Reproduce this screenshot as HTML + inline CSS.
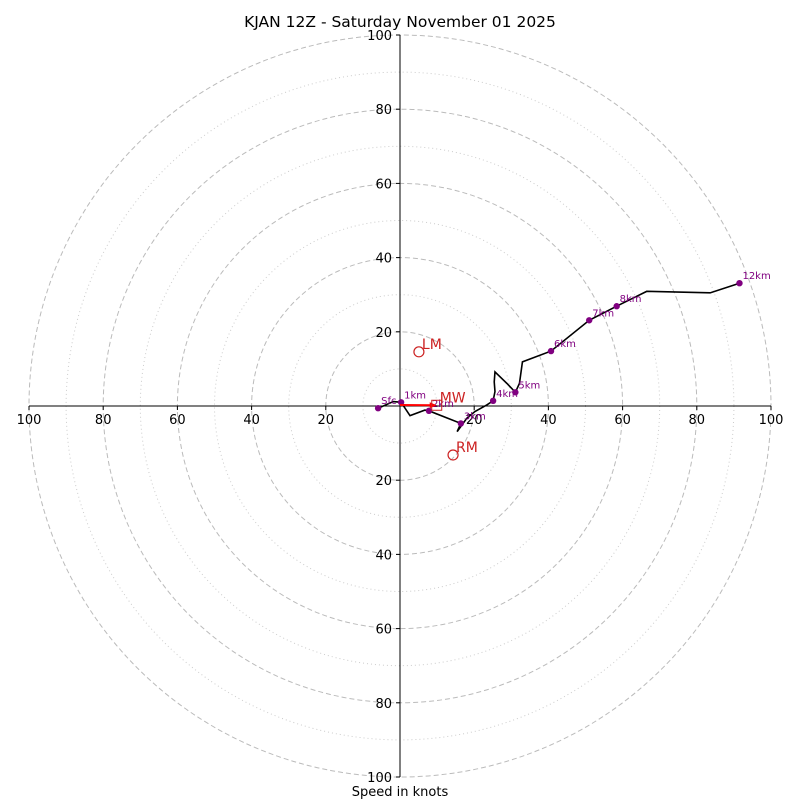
<!DOCTYPE html>
<html><head><meta charset="utf-8"><style>
body{margin:0;background:#fff;font-family:"DejaVu Sans",sans-serif}
</style></head><body>
<svg id="c" width="800" height="800" xmlns="http://www.w3.org/2000/svg" font-family="DejaVu Sans, sans-serif">
<rect width="800" height="800" fill="#fff"/>
<text x="400" y="27" text-anchor="middle" font-size="15.5">KJAN 12Z - Saturday November 01 2025</text>
<text x="400" y="796" text-anchor="middle" font-size="13">Speed in knots</text>
<g id="rings"></g><g id="axes"></g><g id="data"></g>
</svg>
<script>
const ringMajor=[20,40,60,80,100];
const ringMinor=[10,30,50,70,90];
const tickVals=[20,40,60,80,100];
const traceU=[-5.9,-1.8,0.3,2.7,6.7,7.8,16.4,15.4,18,20.2,23.4,25.1,25.6,25.4,25.6,28.8,31.1,32.2,33,40.7,51,58.4,66.5,83.6,91.5];
const traceV=[-0.6,1.2,1.0,-2.6,-1.1,-1.3,-4.7,-6.9,-3.3,-1.5,0.3,1.4,3.9,6.5,9.2,6.1,3.7,6.1,11.9,14.8,23.1,26.9,30.9,30.5,33.1];
const markLabels=["Sfc","1km","2km","3km","4km","5km","6km","7km","8km","12km"];
const markU=[-5.9,0.3,7.8,16.4,25.1,31.1,40.7,51,58.4,91.5];
const markV=[-0.6,1.0,-1.3,-4.7,1.4,3.7,14.8,23.1,26.9,33.1];
const motionLabels=["LM","RM","MW"];
const motionU=[5.1,14.3,9.9];
const motionV=[14.6,-13.2,0.2];
const cx=400,cy=406,k=3.71;
const X=u=>cx+u*k, Y=v=>cy-v*k;
const NS="http://www.w3.org/2000/svg";
function mk(t,a,p){const e=document.createElementNS(NS,t);for(const n in a)e.setAttribute(n,a[n]);p.appendChild(e);return e;}
const rings=document.getElementById('rings'),axes=document.getElementById('axes'),data=document.getElementById('data');
ringMinor.forEach(r=>{const e=mk('circle',{cx:cx,cy:cy,r:r*k,fill:'none',stroke:'#ccc','stroke-width':1,'stroke-dasharray':'1,3'},rings);

});
ringMajor.forEach(r=>{const e=mk('circle',{cx:cx,cy:cy,r:r*k,fill:'none',stroke:'#bbb','stroke-width':1,'stroke-dasharray':'5,3'},rings);

});
let a=mk('line',{x1:X(-100),y1:cy,x2:X(100),y2:cy,stroke:'#000'},axes);


a=mk('line',{x1:cx,y1:Y(100),x2:cx,y2:Y(-100),stroke:'#000'},axes);


tickVals.forEach(t=>{[-1,1].forEach(s=>{
 let e=mk('line',{x1:X(s*t),y1:cy,x2:X(s*t),y2:cy+4,stroke:'#000'},axes);
 
 
 e=mk('text',{x:X(s*t),y:cy+18,'text-anchor':'middle','font-size':13},axes);e.textContent=t;
 
 
 e=mk('line',{x1:cx-4,y1:Y(s*t),x2:cx,y2:Y(s*t),stroke:'#000'},axes);
 
 
 e=mk('text',{x:cx-8,y:Y(s*t)+5,'text-anchor':'end','font-size':13},axes);e.textContent=t;
 
 
});});
let pl=mk('polyline',{points:traceU.map((u,i)=>X(u)+','+Y(traceV[i])).join(' '),fill:'none',stroke:'#000','stroke-width':1.6},data);


markU.forEach((u,i)=>{
 let e=mk('circle',{cx:X(u),cy:Y(markV[i]),r:3.2,fill:'purple'},data);
 
 
 e=mk('text',{x:X(u)+3,y:Y(markV[i])-4,'font-size':10,fill:'purple'},data);e.textContent=markLabels[i];
 
 
});
let ar=mk('line',{x1:cx,y1:cy-1,x2:X(motionU[2])-4,y2:Y(motionV[2]),stroke:'red','stroke-width':2},data);


ar=mk('polygon',{points:(X(motionU[2]))+','+Y(motionV[2])+' '+(X(motionU[2])-7)+','+(Y(motionV[2])-3)+' '+(X(motionU[2])-7)+','+(Y(motionV[2])+3),fill:'red'},data);


motionU.forEach((u,i)=>{
 let e;
 if(motionLabels[i]==='MW') e=mk('rect',{x:X(u)-5,y:Y(motionV[i])-5,width:10,height:10,fill:'none',stroke:'#c22'},data);
 else e=mk('circle',{cx:X(u),cy:Y(motionV[i]),r:5,fill:'none',stroke:'#c22','stroke-width':1.2},data);
 
 
 e=mk('text',{x:X(u)+3,y:Y(motionV[i])-3,'font-size':14,fill:'#c22'},data);e.textContent=motionLabels[i];
 
 
});
</script>
</body></html>
